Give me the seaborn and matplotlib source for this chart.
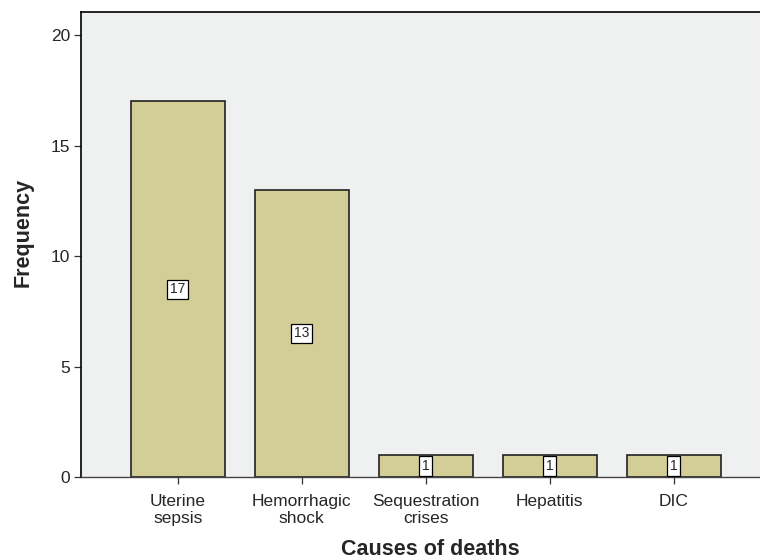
import matplotlib
matplotlib.use("Agg")
import seaborn as sns
import pandas as pd
import matplotlib.pyplot as plt

causes = ["Uterine\nsepsis", "Hemorrhagic\nshock", "Sequestration\ncrises", "Hepatitis", "DIC"]
counts = [17, 13, 1, 1, 1]

df = pd.DataFrame({"cause": causes, "count": counts})

sns.set_style("white")
plt.rcParams["font.family"] = ["Liberation Sans", "DejaVu Sans"]

fig = plt.figure(figsize=(7.6, 5.6), dpi=100)
ax = fig.add_axes([0.1066, 0.148, 0.907, 0.8306])
ax.set_facecolor("#eff1f0")

sns.barplot(data=df, x="cause", y="count", color="#d3ce97", width=0.76,
            edgecolor="#222222", linewidth=1.2, saturation=1, ax=ax)

# value boxes in the middle of each bar
for i, v in enumerate(counts):
    ax.text(i, v / 2, str(v), ha="center", va="center", fontsize=10,
            bbox=dict(boxstyle="square,pad=0.2", fc="white", ec="black", lw=0.9))

ax.set_xlim(-0.78, 4.78)
ax.set_ylim(0, 21.05)
ax.set_yticks([0, 5, 10, 15, 20])
ax.tick_params(axis="both", direction="out", length=5, width=0.9, color="#333333",
               labelsize=12.5, bottom=True, left=True, pad=3)
ax.tick_params(axis="x", pad=7)
for lbl in ax.get_xticklabels():
    lbl.set_linespacing(1.2)

for side in ["top", "left"]:
    ax.spines[side].set_color("black")
    ax.spines[side].set_linewidth(1.2)
ax.spines["bottom"].set_color("#444444")
ax.spines["bottom"].set_linewidth(1.0)
ax.spines["right"].set_visible(False)

ax.set_xlabel("Causes of deaths", fontsize=15.5, fontweight="bold")
ax.set_ylabel("Frequency", fontsize=15.5, fontweight="bold")
ax.xaxis.set_label_coords(0.5065, -0.1335)
ax.yaxis.set_label_coords(-0.069, 0.525)

fig.savefig("out.png", dpi=100)
